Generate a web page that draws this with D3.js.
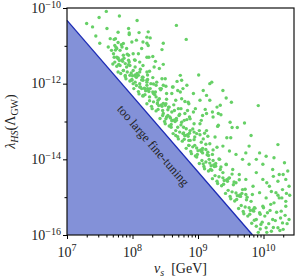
<!DOCTYPE html>
<meta charset="utf-8">
<title>Fine-tuning scan</title>
<style>
body {
  margin: 0;
  background: #fff;
}
svg text {
  font-family: "Liberation Serif", "DejaVu Serif", serif;
  fill: #222;
}
</style>
<body></body>
<script src="https://d3js.org/d3.v7.min.js"></script>
<script>
// tick values
var xMajor = [1e7, 1e8, 1e9, 1e10],
    xMajorExp = ['7', '8', '9', '10'],
    yMajor = [1e-16, 1e-14, 1e-12, 1e-10],
    yMajorExp = ['\u221216', '\u221214', '\u221212', '\u221210'],
    yMinor = [1e-15, 1e-13, 1e-11];

// boundary of the excluded region (v_s, lambda)
var boundaryV = [1e7, 6.8e9],
    boundaryLambda = [4.7e-11, 1e-16];

// scan points, log10(v_s [GeV])
var pointLogV = [
  7.30, 7.39, 7.49, 7.60, 7.80, 7.61, 7.44, 7.78, 7.94, 7.95, 7.95, 8.07, 8.10, 7.74, 7.78, 7.50, 7.63, 7.66, 8.24,
  7.73, 7.81, 7.68, 7.76, 7.86, 7.94, 7.73, 7.81, 7.91, 8.01, 8.11, 8.06, 8.16, 8.22, 8.14, 7.99, 7.89, 7.78, 8.11,
  8.22, 8.01, 8.24, 7.99, 8.14, 8.06, 8.22, 7.76, 7.84, 7.71, 7.78, 7.89, 7.96, 8.04, 8.09, 8.16, 8.22, 8.19, 8.11,
  8.04, 7.96, 7.86, 7.94, 8.04, 8.16, 8.22, 8.09, 7.91, 7.86, 8.16,
  8.67, 8.82, 8.27, 8.22, 8.47, 8.45, 8.31, 8.25, 8.35, 8.47, 8.26, 9.01, 9.21, 8.73, 8.75, 8.68, 8.45, 8.50, 8.31,
  8.23, 9.38, 9.13, 9.43, 9.51, 9.92, 9.34, 8.96, 9.11, 9.22, 9.35, 9.49, 9.71, 9.52, 9.60, 9.30, 9.81, 9.44, 9.50,
  9.07, 9.05,
  8.61, 8.69, 8.77, 8.60, 8.66, 8.80, 8.86, 8.84, 8.74, 8.87, 8.94, 9.02, 9.10, 9.15, 8.94, 8.82, 8.79, 8.71, 8.64,
  8.56, 8.51, 8.41, 8.36, 8.31, 8.38, 8.46, 8.54, 8.61, 8.69, 8.77, 8.51, 8.59, 8.66,
  8.33, 8.41, 8.28, 8.36, 8.44, 8.51, 8.23, 8.26,
  8.01, 8.11, 8.22, 8.42, 8.32, 8.52, 8.62, 8.73, 8.16, 8.39, 8.50, 8.60, 8.70, 8.80, 8.88, 8.67, 8.78, 8.88, 8.98,
  9.08, 8.95, 9.06, 9.16, 9.23, 9.29, 9.18, 9.26, 9.13, 9.03, 8.93, 9.13, 9.23, 9.29, 9.18, 9.03, 8.85, 8.75, 8.57,
  8.47, 8.80, 8.88, 8.98, 9.08, 9.21, 8.37, 8.47, 8.83, 8.93, 9.08, 9.18, 9.31, 9.31,
  8.86, 8.86, 9.05, 10.22, 9.73, 9.89, 9.99, 10.14, 10.24, 10.34, 10.39, 10.24, 10.34, 10.39, 10.29, 10.22, 10.11,
  10.04, 9.94, 9.84, 9.73, 9.63, 9.53, 9.43, 9.33, 9.22, 9.12, 9.78, 9.68, 9.58, 9.48, 9.38, 9.89, 9.99, 10.09,
  10.19, 9.99, 10.06, 10.14, 9.94, 9.89, 9.96, 10.04, 9.73, 9.68, 9.58, 9.48, 9.38, 9.27, 9.17, 9.07, 9.81, 9.86,
  9.63, 9.78, 9.94, 10.04, 10.16, 10.32, 10.37, 10.22, 10.29, 10.27, 10.34,
  9.95, 10.05, 10.15, 10.25,
  // dense band just above the boundary
  7.70, 7.72, 7.74, 7.72, 7.76, 7.78, 7.75, 7.79, 7.82, 7.80, 7.84, 7.83, 7.89, 7.86, 7.87, 7.85,
  7.90, 7.92, 7.94, 7.92, 7.96, 7.98, 7.95, 7.99, 8.02, 8.00, 8.04, 8.03, 8.09, 8.06, 8.07, 8.05,
  8.10, 8.12, 8.14, 8.12, 8.16, 8.18, 8.15, 8.19, 8.22, 8.20, 8.24, 8.23, 8.29, 8.26, 8.27, 8.25,
  8.30, 8.32, 8.34, 8.32, 8.36, 8.38, 8.35, 8.39, 8.42, 8.40, 8.44, 8.43, 8.49, 8.46, 8.47, 8.45,
  8.50, 8.52, 8.54, 8.52, 8.56, 8.58, 8.55, 8.59, 8.62, 8.60, 8.64, 8.63, 8.69, 8.66, 8.67, 8.65,
  8.70, 8.72, 8.74, 8.72, 8.76, 8.78, 8.75, 8.79, 8.82, 8.80, 8.84, 8.83, 8.89, 8.86, 8.87, 8.85,
  8.90, 8.92, 8.94, 8.92, 8.96, 8.98, 8.95, 8.99, 9.02, 9.00, 9.04, 9.03, 9.09, 9.06, 9.07, 9.05,
  9.10, 9.12, 9.14, 9.12, 9.16, 9.18, 9.15, 9.19, 9.22, 9.20, 9.24, 9.23, 9.29, 9.26, 9.27, 9.25,
  9.30, 9.32, 9.34, 9.32, 9.36, 9.38, 9.35, 9.39, 9.42, 9.40, 9.44, 9.43, 9.49, 9.46, 9.47, 9.45,
  9.50, 9.52, 9.54, 9.52, 9.56, 9.58, 9.55, 9.59, 9.62, 9.60, 9.64, 9.63, 9.69, 9.66, 9.67, 9.65,
  9.70, 9.72, 9.74, 9.72, 9.76, 9.78, 9.75, 9.79, 9.82, 9.80, 9.84, 9.83, 9.89, 9.86, 9.87, 9.85,
  // lower right corner
  9.92, 9.98, 10.02, 10.08, 10.12, 10.18, 10.20, 10.26, 10.30, 10.33, 10.36, 10.10, 10.00, 9.95, 10.16, 10.28,
  10.35, 10.12, 10.22, 10.05, 10.15, 10.30, 10.40
];

// scan points, log10(lambda_HS)
var pointLogLambda = [
  -10.41, -10.50, -10.25, -10.09, -10.21, -10.54, -10.74, -10.64, -10.54, -10.66, -10.70, -10.33, -10.65, -10.81, -10.91, -10.93, -11.03, -10.81, -10.63,
  -10.99, -11.12, -11.12, -11.30, -11.25, -11.38, -11.43, -11.52, -11.56, -11.65, -11.69, -11.83, -11.91, -12.04, -12.13, -11.91, -11.78, -11.69, -11.43,
  -11.30, -11.21, -10.99, -10.90, -11.07, -10.85, -10.77, -11.07, -11.03, -11.21, -11.34, -11.47, -11.52, -11.56, -11.78, -11.83, -11.91, -12.13, -12.00,
  -11.96, -11.78, -11.65, -11.25, -11.38, -11.52, -11.69, -11.21, -11.07, -10.94, -10.90,
  -10.46, -10.83, -10.79, -10.93, -10.93, -11.10, -11.28, -11.30, -11.41, -11.49, -11.67, -11.77, -11.96, -11.78, -11.91, -11.94, -11.87, -11.87, -11.84,
  -11.89, -12.18, -12.31, -12.38, -12.49, -12.58, -12.57, -12.66, -12.68, -12.75, -12.82, -13.02, -13.04, -13.16, -13.16, -13.13, -13.37, -13.43, -13.43,
  -12.84, -12.97,
  -12.09, -12.18, -12.13, -12.26, -12.44, -12.47, -12.53, -12.71, -12.66, -12.88, -13.06, -13.24, -13.31, -13.39, -13.28, -13.19, -12.97, -12.84, -12.71,
  -12.62, -12.53, -12.40, -12.35, -12.22, -12.53, -12.71, -12.84, -12.97, -13.15, -13.32, -12.93, -13.15, -13.37,
  -11.56, -11.60, -12.00, -12.04, -12.13, -12.07, -12.13, -12.35,
  -12.00, -12.09, -11.96, -12.13, -12.26, -12.26, -12.09, -12.22, -12.31, -12.44, -12.57, -12.75, -12.66, -12.79, -12.93, -12.97, -13.15, -13.24, -13.32,
  -13.46, -13.63, -13.76, -13.90, -14.03, -13.68, -13.59, -13.41, -13.24, -13.06, -12.75, -12.79, -12.88, -12.62, -12.44, -12.44, -12.49, -12.40, -12.88,
  -12.79, -13.37, -13.50, -13.94, -14.12, -14.29, -11.96, -12.04, -12.04, -12.26, -12.18, -12.00, -12.79, -13.10,
  -13.50, -13.63, -13.55, -13.61, -13.83, -14.00, -14.13, -14.27, -14.40, -14.53, -14.71, -15.02, -15.11, -15.59, -15.68, -15.81, -15.19,
  -15.02, -14.88, -14.71, -14.53, -14.40, -14.27, -14.13, -14.00, -13.87, -13.74, -14.13, -14.00, -13.87, -13.78, -13.65, -14.35, -14.53, -14.71,
  -14.88, -15.24, -15.41, -15.59, -15.41, -15.59, -15.72, -15.81, -14.93, -14.80, -14.62, -14.49, -14.35, -14.18, -14.00, -13.83, -15.11, -15.28,
  -14.97, -13.65, -13.83, -13.92, -13.96, -14.09, -14.31, -14.58, -14.80, -15.37, -15.24,
  -15.84, -15.93, -15.80, -15.88,
  // dense band just above the boundary
  -11.48, -11.30, -11.11, -10.83, -11.54, -11.32, -11.04, -11.49, -11.73, -11.39, -11.37, -10.97, -11.81, -11.65, -11.33, -11.41,
  -11.87, -11.69, -11.50, -11.22, -11.93, -11.72, -11.43, -11.89, -12.13, -11.79, -11.77, -11.37, -12.21, -12.05, -11.73, -11.81,
  -12.27, -12.09, -11.90, -11.62, -12.33, -12.12, -11.83, -12.29, -12.53, -12.19, -12.17, -11.77, -12.60, -12.45, -12.13, -12.21,
  -12.66, -12.48, -12.29, -12.01, -12.72, -12.51, -12.22, -12.68, -12.92, -12.58, -12.56, -12.16, -13.00, -12.84, -12.52, -12.60,
  -13.06, -12.88, -12.69, -12.41, -13.12, -12.91, -12.62, -13.08, -13.32, -12.98, -12.96, -12.56, -13.40, -13.24, -12.92, -13.00,
  -13.46, -13.28, -13.09, -12.81, -13.52, -13.30, -13.02, -13.47, -13.71, -13.37, -13.35, -12.95, -13.79, -13.63, -13.31, -13.39,
  -13.85, -13.67, -13.48, -13.20, -13.91, -13.70, -13.41, -13.87, -14.11, -13.77, -13.75, -13.35, -14.19, -14.03, -13.71, -13.79,
  -14.25, -14.07, -13.88, -13.60, -14.31, -14.10, -13.81, -14.27, -14.51, -14.17, -14.15, -13.75, -14.58, -14.43, -14.11, -14.19,
  -14.64, -14.46, -14.27, -13.99, -14.70, -14.49, -14.20, -14.66, -14.90, -14.56, -14.54, -14.14, -14.98, -14.82, -14.50, -14.58,
  -15.04, -14.86, -14.67, -14.39, -15.10, -14.89, -14.60, -15.06, -15.30, -14.96, -14.94, -14.54, -15.38, -15.22, -14.90, -14.98,
  -15.44, -15.26, -15.07, -14.79, -15.50, -15.28, -15.00, -15.45, -15.69, -15.35, -15.33, -14.93, -15.77, -15.61, -15.29, -15.37,
  // lower right corner
  -15.93, -15.66, -15.50, -15.70, -15.90, -15.62, -15.40, -15.55, -15.85, -15.48, -15.70, -15.35, -15.28, -15.45, -15.15, -15.02,
  -14.90, -14.85, -14.95, -14.62, -14.45, -14.40, -14.95
];

var width = 296, height = 279,
    plotLeft = 67, plotRight = 294, plotTop = 8, plotBottom = 235;

var x = d3.scaleLog().domain([1e7, 2.92e10]).range([plotLeft, plotRight]);
var y = d3.scaleLog().domain([1e-16, 1e-10]).range([plotBottom, plotTop]);

var xMinor = [];
[1e7, 1e8, 1e9, 1e10].forEach(function (d) {
  for (var k = 2; k < 10; k++) {
    if (d * k <= x.domain()[1]) xMinor.push(d * k);
  }
});

var svg = d3.select('body').append('svg')
    .attr('width', width)
    .attr('height', height);

var line = d3.line()
    .x(function (d) { return x(d[0]); })
    .y(function (d) { return y(d[1]); });

// excluded region
var region = [[boundaryV[0], boundaryLambda[0]], [boundaryV[1], boundaryLambda[1]], [boundaryV[0], boundaryLambda[1]]];
svg.append('path')
    .attr('d', line(region) + 'Z')
    .style('fill', '#8391d8');

svg.append('path')
    .attr('d', line(region.slice(0, 2)))
    .style('fill', 'none')
    .style('stroke', '#1c2bb5')
    .style('stroke-width', 1.3);

// points
var points = pointLogV.map(function (u, i) {
  return [Math.pow(10, u), Math.pow(10, pointLogLambda[i])];
});
svg.append('g').selectAll('circle')
    .data(points)
    .enter()
    .append('circle')
    .attr('cx', function (d) { return x(d[0]); })
    .attr('cy', function (d) { return y(d[1]); })
    .attr('r', 1.7)
    .style('fill', '#66d066');

// label inside the region
var p0 = [x(boundaryV[0]), y(boundaryLambda[0])],
    p1 = [x(boundaryV[1]), y(boundaryLambda[1])];
var angle = Math.atan2(p1[1] - p0[1], p1[0] - p0[0]) * 180 / Math.PI;
svg.append('text')
    .attr('transform', 'translate(' + x(2e8) + ',' + y(2.2e-14) + ') rotate(' + angle + ')')
    .attr('text-anchor', 'middle')
    .attr('dominant-baseline', 'middle')
    .style('font-size', '12.5px')
    .text('too large fine-tuning');

// frame
svg.append('rect')
    .attr('x', plotLeft)
    .attr('y', plotTop)
    .attr('width', plotRight - plotLeft)
    .attr('height', plotBottom - plotTop)
    .style('fill', 'none')
    .style('stroke', '#111')
    .style('stroke-width', 1.2);

// x axis ticks
svg.append('g')
    .attr('transform', 'translate(0,' + plotBottom + ')')
    .call(d3.axisBottom(x).tickValues(xMajor).tickSize(4).tickFormat(''))
    .call(function (g) { g.select('.domain').remove(); });
svg.append('g')
    .attr('transform', 'translate(0,' + plotBottom + ')')
    .call(d3.axisBottom(x).tickValues(xMinor).tickSize(2.5).tickFormat(''))
    .call(function (g) { g.select('.domain').remove(); });

// y axis ticks
svg.append('g')
    .attr('transform', 'translate(' + plotLeft + ',0)')
    .call(d3.axisLeft(y).tickValues(yMajor).tickSize(4).tickFormat(''))
    .call(function (g) { g.select('.domain').remove(); });
svg.append('g')
    .attr('transform', 'translate(' + plotLeft + ',0)')
    .call(d3.axisLeft(y).tickValues(yMinor).tickSize(2.5).tickFormat(''))
    .call(function (g) { g.select('.domain').remove(); });

// tick labels
var xl = svg.append('g').selectAll('text')
    .data(xMajor)
    .enter()
    .append('text')
    .attr('x', function (d) { return x(d); })
    .attr('y', plotBottom + 22)
    .attr('text-anchor', 'middle')
    .style('font-size', '14px');
xl.append('tspan').text('10');
xl.append('tspan')
    .attr('dy', -6)
    .style('font-size', '10px')
    .text(function (d, i) { return xMajorExp[i]; });

var yl = svg.append('g').selectAll('text')
    .data(yMajor)
    .enter()
    .append('text')
    .attr('x', plotLeft - 6)
    .attr('y', function (d) { return y(d) + 4.5; })
    .attr('text-anchor', 'end')
    .style('font-size', '14px');
yl.append('tspan').text('10');
yl.append('tspan')
    .attr('dy', -5)
    .style('font-size', '10px')
    .text(function (d, i) { return yMajorExp[i]; });

// axis titles
var xt = svg.append('text')
    .attr('x', (plotLeft + plotRight) / 2)
    .attr('y', 273)
    .attr('text-anchor', 'middle')
    .style('font-size', '14px');
xt.append('tspan').style('font-style', 'italic').text('v');
xt.append('tspan').attr('dy', 3).style('font-size', '10px').style('font-style', 'italic').text('s');
xt.append('tspan').attr('dy', -3).text('\u2002[GeV]');

var yt = svg.append('text')
    .attr('transform', 'translate(15,' + (plotTop + plotBottom) / 2 + ') rotate(-90)')
    .attr('text-anchor', 'middle')
    .style('font-size', '14px');
yt.append('tspan').style('font-style', 'italic').text('\u03bb');
yt.append('tspan').attr('dy', 3).style('font-size', '10px').style('font-style', 'italic').text('HS');
yt.append('tspan').attr('dy', -3).text('(\u039b');
yt.append('tspan').attr('dy', 3).style('font-size', '10px').text('GW');
yt.append('tspan').attr('dy', -3).text(')');
</script>
